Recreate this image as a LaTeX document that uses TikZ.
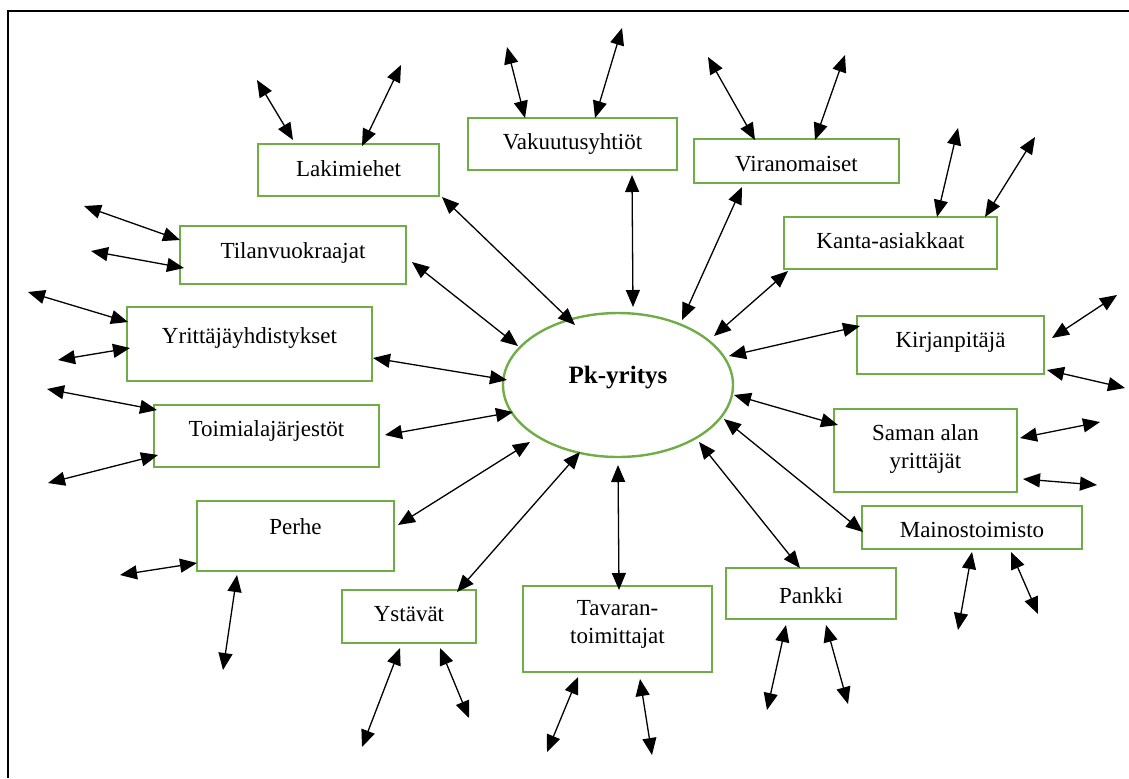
\documentclass[tikz,border=0pt]{standalone}
\usepackage{fontspec}
\setmainfont{Liberation Serif}
\usetikzlibrary{arrows.meta,shapes.geometric}
\definecolor{grn}{HTML}{70AD47}
\newcommand\lift[2]{\raisebox{#1}{#2}}
\newcommand\twolines[3]{\raisebox{#1}{\begin{tabular}[b]{@{}c@{}}#2\\#3\end{tabular}}}
\tikzset{
  box/.style={draw=grn, line width=1.2pt, inner sep=0pt, text height=0pt, text depth=0pt,
    font=\fontsize{11.5}{14}\selectfont},
  arr/.style={<->, >={Triangle[length=8.5pt,width=7pt]}, line width=0.65pt},
}
\begin{document}
\begin{tikzpicture}[x=0.5pt,y=-0.5pt]
\useasboundingbox (0,0) rectangle (1129,778);
\draw[line width=1.1pt] (1129,11) -- (8,11) -- (8,778);

% center
\node[box, ellipse, minimum width=115pt, minimum height=72pt,
  font=\fontsize{12.5}{15}\selectfont\bfseries] (ell) at (618,385) {\lift{1pt}{Pk-yritys}};

% boxes
\node[box, minimum width=90.5pt, minimum height=26pt] (lak) at (348.5,170) {\lift{-3pt}{Lakimiehet}};
\node[box, minimum width=104.5pt, minimum height=26pt] (vak) at (572.5,144) {\lift{-2.5pt}{Vakuutusyhtiöt}};
\node[box, minimum width=102.5pt, minimum height=22pt] (vir) at (796.5,161) {\lift{-5pt}{Viranomaiset}};
\node[box, minimum width=106.5pt, minimum height=26pt] (kan) at (890.5,243) {\lift{-2.5pt}{Kanta-asiakkaat}};
\node[box, minimum width=93.5pt, minimum height=29pt] (kir) at (950.5,345) {\lift{-1pt}{Kirjanpitäjä}};
\node[box, minimum width=91.5pt, minimum height=41.5pt] (sam) at (925.5,450.5) {\twolines{-8.75pt}{Saman alan}{yrittäjät}};
\node[box, minimum width=110pt, minimum height=21.5pt] (mai) at (972,527.5) {\lift{-4.75pt}{Mainostoimisto}};
\node[box, minimum width=85pt, minimum height=25.5pt] (pan) at (811,593.5) {\lift{-4.75pt}{Pankki}};
\node[box, minimum width=94.5pt, minimum height=43pt] (tav) at (617.5,629) {\twolines{-7pt}{Tavaran-}{toimittajat}};
\node[box, minimum width=67pt, minimum height=26.5pt] (yst) at (409,616.5) {\lift{-2.25pt}{Ystävät}};
\node[box, minimum width=98.5pt, minimum height=35pt] (per) at (295.5,536) {\lift{1pt}{Perhe}};
\node[box, minimum width=112.5pt, minimum height=31pt] (toi) at (266.5,436) {\lift{0pt}{Toimialajärjestöt}};
\node[box, minimum width=122.5pt, minimum height=37pt] (yri) at (249.5,344) {\lift{0.5pt}{Yrittäjäyhdistykset}};
\node[box, minimum width=113pt, minimum height=29pt] (til) at (293,255) {\lift{-1.5pt}{Tilanvuokraajat}};

% central connectors
\draw[arr] ([shift={(93.5,27)}]lak.center) -- ([shift={(-43,-60)}]ell.center);
\draw[arr] ([shift={(119,7)}]til.center) -- ([shift={(-100,-39)}]ell.center);
\draw[arr] ([shift={(59.5,31)}]vak.center) -- ([shift={(15,-78)}]ell.center);
\draw[arr] ([shift={(-54.5,26)}]vir.center) -- ([shift={(64,-65)}]ell.center);
\draw[arr] ([shift={(-102.5,28)}]kan.center) -- ([shift={(96,-49)}]ell.center);
\draw[arr] ([shift={(-90.5,-19)}]kir.center) -- ([shift={(111,-29)}]ell.center);
\draw[arr] ([shift={(-87.5,-25.5)}]sam.center) -- ([shift={(116,10)}]ell.center);
\draw[arr] ([shift={(-109,4.5)}]mai.center) -- ([shift={(106,34)}]ell.center);
\draw[arr] ([shift={(-11,-25.5)}]pan.center) -- ([shift={(81,57)}]ell.center);
\draw[arr] ([shift={(1.5,-39)}]tav.center) -- ([shift={(0,80)}]ell.center);
\draw[arr] ([shift={(48,-24.5)}]yst.center) -- ([shift={(-38,67)}]ell.center);
\draw[arr] ([shift={(102.5,-11)}]per.center) -- ([shift={(-88,57)}]ell.center);
\draw[arr] ([shift={(118.5,-1)}]toi.center) -- ([shift={(-105,27)}]ell.center);
\draw[arr] ([shift={(123.5,14)}]yri.center) -- ([shift={(-111,-5)}]ell.center);

% free ends
\coordinate (lak1) at (257,80);   \coordinate (lak2) at (401,65);
\coordinate (vak1) at (507,47);   \coordinate (vak2) at (622,28);
\coordinate (vir1) at (708,57);   \coordinate (vir2) at (845,55);
\coordinate (kan1) at (958,128);  \coordinate (kan2) at (1035,137);
\coordinate (kir1) at (1117,295); \coordinate (kir2) at (1125,388);
\coordinate (sam1) at (1100,422); \coordinate (sam2) at (1097,485);
\coordinate (mai1) at (958,630);  \coordinate (mai2) at (1038,614);
\coordinate (pan1) at (767,710);  \coordinate (pan2) at (848,704);
\coordinate (tav1) at (547,752);  \coordinate (tav2) at (652,755);
\coordinate (yst1) at (362,747);  \coordinate (yst2) at (469,718);
\coordinate (per1) at (120,575);  \coordinate (per2) at (223,670);
\coordinate (toi1) at (47,389);   \coordinate (toi2) at (48,483);
\coordinate (yri1) at (28,292);   \coordinate (yri2) at (58,360);
\coordinate (til1) at (84,206);   \coordinate (til2) at (91,251);

% outer connectors
\draw[arr] ([shift={(-55.5,-30)}]lak.center) -- (lak1);
\draw[arr] ([shift={(13.5,-24)}]lak.center) -- (lak2);
\draw[arr] ([shift={(-47.5,-26)}]vak.center) -- (vak1);
\draw[arr] ([shift={(22.5,-26)}]vak.center) -- (vak2);
\draw[arr] ([shift={(-41.5,-21)}]vir.center) -- (vir1);
\draw[arr] ([shift={(18.5,-21)}]vir.center) -- (vir2);
\draw[arr] ([shift={(46.5,-26)}]kan.center) -- (kan1);
\draw[arr] ([shift={(94.5,-26)}]kan.center) -- (kan2);
\draw[arr] ([shift={(101.5,-7)}]kir.center) -- (kir1);
\draw[arr] ([shift={(96.5,25)}]kir.center) -- (kir2);
\draw[arr] ([shift={(94.5,-12.5)}]sam.center) -- (sam1);
\draw[arr] ([shift={(97.5,28.5)}]sam.center) -- (sam2);
\draw[arr] ([shift={(0,24.5)}]mai.center) -- (mai1);
\draw[arr] ([shift={(39,24.5)}]mai.center) -- (mai2);
\draw[arr] ([shift={(-25,31.5)}]pan.center) -- (pan1);
\draw[arr] ([shift={(15,31.5)}]pan.center) -- (pan2);
\draw[arr] ([shift={(-39.5,48)}]tav.center) -- (tav1);
\draw[arr] ([shift={(22.5,50)}]tav.center) -- (tav2);
\draw[arr] ([shift={(-9,31.5)}]yst.center) -- (yst1);
\draw[arr] ([shift={(31,31.5)}]yst.center) -- (yst2);
\draw[arr] ([shift={(-98.5,27)}]per.center) -- (per1);
\draw[arr] ([shift={(-58.5,39)}]per.center) -- (per2);
\draw[arr] ([shift={(-109.5,-26)}]toi.center) -- (toi1);
\draw[arr] ([shift={(-108.5,19)}]toi.center) -- (toi2);
\draw[arr] ([shift={(-121.5,-22)}]yri.center) -- (yri1);
\draw[arr] ([shift={(-119.5,4)}]yri.center) -- (yri2);
\draw[arr] ([shift={(-113,-15)}]til.center) -- (til1);
\draw[arr] ([shift={(-109,13)}]til.center) -- (til2);
\end{tikzpicture}
\end{document}
